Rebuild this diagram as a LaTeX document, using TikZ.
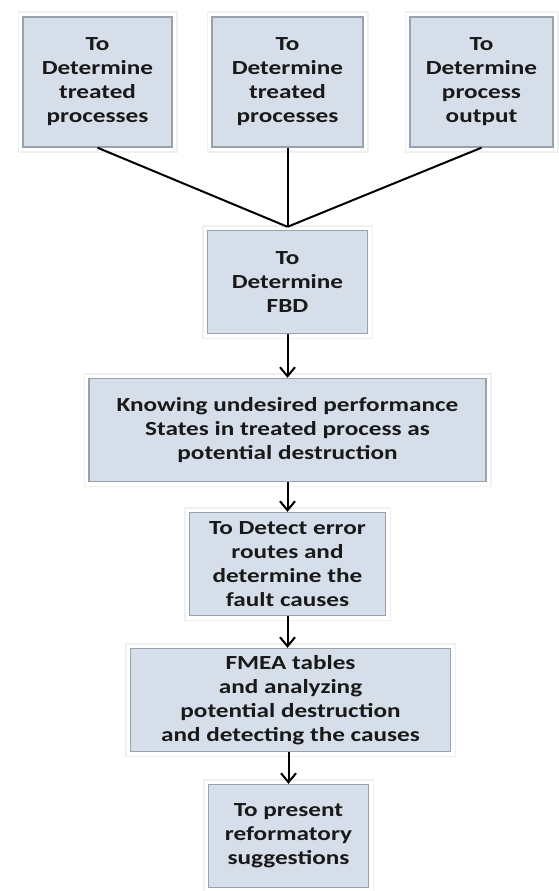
\documentclass[tikz,border=0pt]{standalone}
\usepackage{fontspec}
\setmainfont{Carlito}[FakeStretch=1.26]
\usepackage{xcolor}
\usepackage{tikz}
\usetikzlibrary{arrows.meta}
\definecolor{boxfill}{HTML}{D6DEEA}
\definecolor{boxedge}{HTML}{98A1AC}
\tikzstyle{arrow} = [-{Straight Barb[length=9pt,width=15pt]}, line width=2pt]
\tikzstyle{link} = [line width=2pt]
\tikzstyle{box} = [rectangle, draw=boxedge, line width=1.4pt, fill=boxfill, align=center, inner sep=0pt, minimum height=103pt, text=black!90, font=\fontsize{20}{24}\selectfont\bfseries, preaction={draw=black!6, line width=11pt}, preaction={draw=white, line width=8pt}]

\begin{document}
\begin{tikzpicture}[node distance=136pt]
		\useasboundingbox (0,0) rectangle (559pt,-891pt);

		\node (2top) [box, minimum width=151pt, minimum height=130pt] at (287.5pt,-82pt) {To\\Determine\\treated\\processes};
		\node (1top) [box, minimum width=149pt, minimum height=130pt, left of=2top, xshift=-54pt] {To\\Determine\\treated\\processes};
		\node (3top) [box, minimum width=143pt, minimum height=130pt, right of=2top, xshift=58pt] {To\\Determine\\process\\output};

		\node (fbd) [box, minimum width=160pt, below of=2top, yshift=-64pt] {To\\Determine\\FBD};
		\coordinate (join) at ([yshift=3pt]fbd.north);

		\draw [link] (1top.south) -- (join);
		\draw [link] (2top.south) -- (join);
		\draw [link] (3top.south) -- (join);

		\node (states) [box, minimum width=397pt, below of=fbd, yshift=-12pt] {Knowing undesired performance\\States in treated process as\\potential destruction};
		\node (detect) [box, minimum width=196pt, below of=states, yshift=2pt] {To Detect error\\routes and\\determine the\\fault causes};
		\node (fmea) [box, minimum width=320pt, below of=detect, xshift=3pt] {FMEA tables\\and analyzing\\potential destruction\\and detecting the causes};
		\node (suggest) [box, minimum width=160pt, below of=fmea, xshift=-2pt] {To present\\reformatory\\suggestions};

		\draw [arrow] (fbd) -- (states);
		\draw [arrow] (states) -- (detect);
		\draw [arrow] (detect) -- (detect |- fmea.north);
		\draw [arrow] (fmea.south -| suggest) -- (suggest);
	\end{tikzpicture}
\end{document}
